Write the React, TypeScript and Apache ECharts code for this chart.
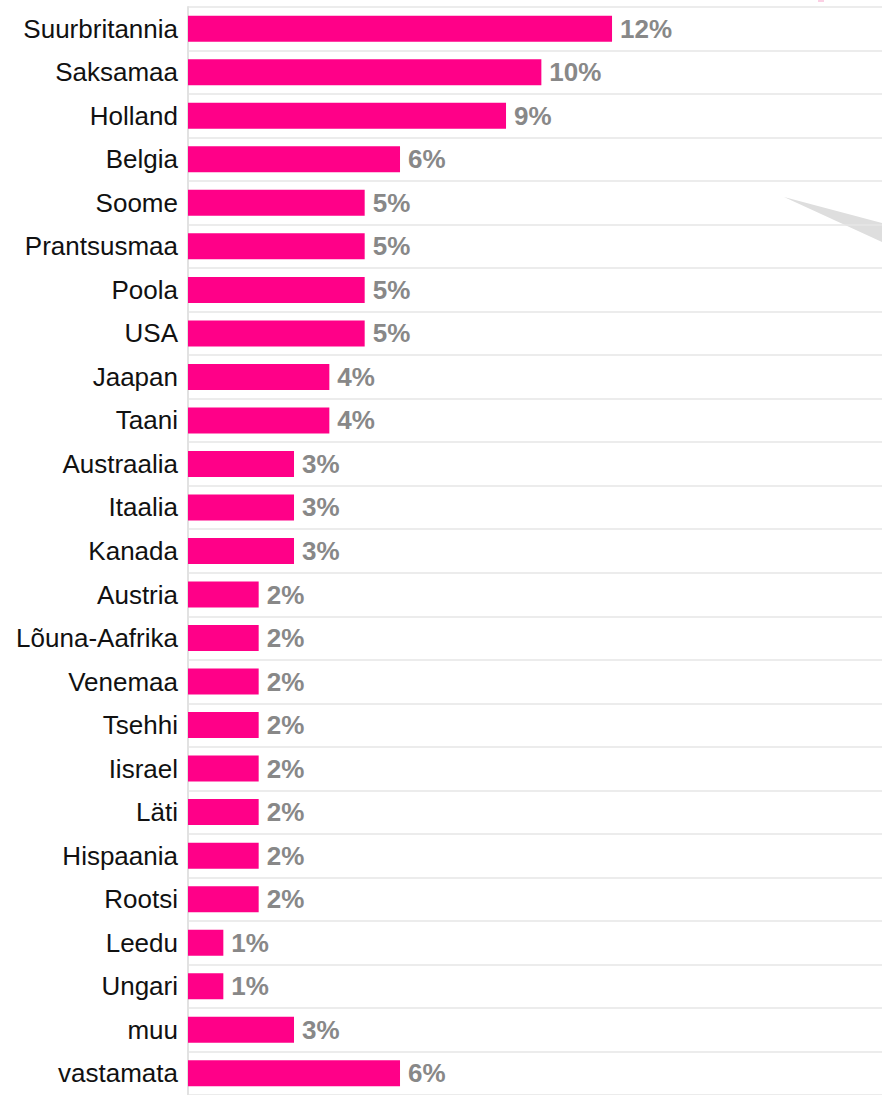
import React, { useEffect, useRef } from "react";
import * as echarts from "echarts";

const categories = [
  "Suurbritannia", "Saksamaa", "Holland", "Belgia", "Soome", "Prantsusmaa", "Poola", "USA",
  "Jaapan", "Taani", "Austraalia", "Itaalia", "Kanada", "Austria", "Lõuna-Aafrika", "Venemaa",
  "Tsehhi", "Iisrael", "Läti", "Hispaania", "Rootsi", "Leedu", "Ungari", "muu", "vastamata",
];
const values = [12, 10, 9, 6, 5, 5, 5, 5, 4, 4, 3, 3, 3, 2, 2, 2, 2, 2, 2, 2, 2, 1, 1, 3, 6];

export default function App() {
  const ref = useRef<HTMLDivElement>(null);
  useEffect(() => {
    if (!ref.current) return;
    const chart = echarts.init(ref.current, null, { renderer: "svg" });
    chart.setOption({
      animation: false,
      backgroundColor: "#ffffff",
      grid: { left: 188, top: 7, width: 694, height: 1090.5, containLabel: false },
      xAxis: {
        type: "value",
        min: 0,
        max: 19.64,
        show: false,
      },
      yAxis: {
        type: "category",
        data: categories,
        inverse: true,
        axisLine: { show: true, lineStyle: { color: "#e2e2e2", width: 2 } },
        axisTick: { show: false },
        axisLabel: {
          color: "#111111",
          fontFamily: "Liberation Sans, Arial, sans-serif",
          fontSize: 26,
          margin: 10,
        },
        splitLine: { show: true, lineStyle: { color: "#e6e6e6", width: 1.5 } },
      },
      series: [
        {
          type: "bar",
          data: values,
          barWidth: 26,
          itemStyle: { color: "#ff0088" },
          label: {
            show: true,
            position: "right",
            distance: 8,
            formatter: "{c}%",
            color: "#888888",
            fontWeight: "bold",
            fontFamily: "Liberation Sans, Arial, sans-serif",
            fontSize: 26,
          },
        },
      ],
      graphic: [
        {
          type: "polygon",
          shape: { points: [[784, 197], [882, 223], [882, 242]] },
          style: { fill: "#dedede" },
        },
        {
          type: "rect",
          shape: { x: 818, y: 0, width: 6, height: 2 },
          style: { fill: "#fbd0e4" },
        },
      ],
    });
    return () => chart.dispose();
  }, []);
  return (
    <div
      ref={ref}
      style={{ position: "fixed", left: 0, top: 0, width: 882, height: 1095 }}
    />
  );
}
